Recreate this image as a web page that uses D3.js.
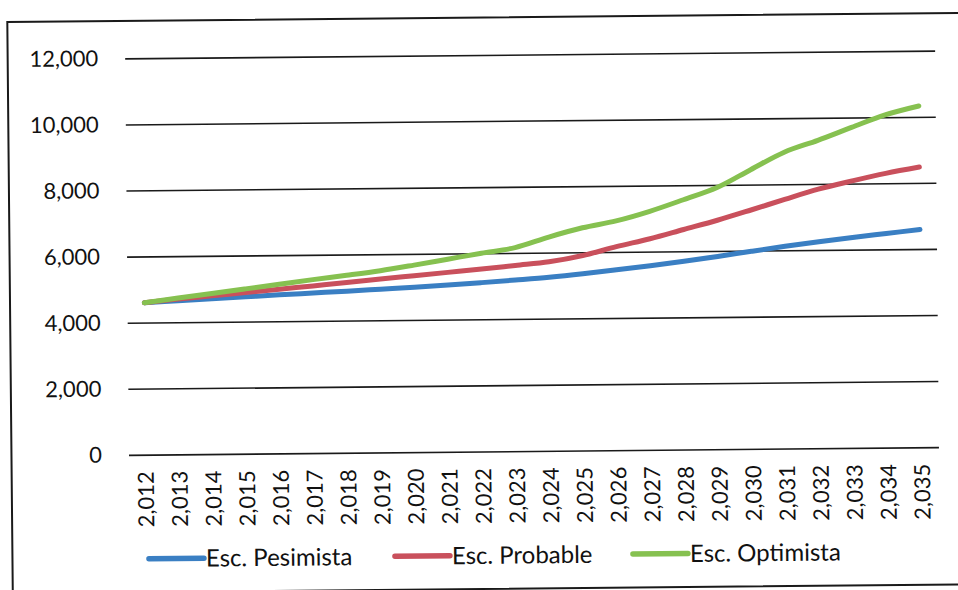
<!DOCTYPE html>
<html><head><meta charset="utf-8">
<script src="https://cdn.jsdelivr.net/npm/d3@7/dist/d3.min.js"></script>
<style>html,body{margin:0;padding:0;background:#fff;} svg{display:block;font-family:Lato,"Open Sans",sans-serif;}</style>
</head><body><svg id="c" width="958" height="590"></svg>
<script>
const years = [2012,2013,2014,2015,2016,2017,2018,2019,2020,2021,2022,2023,2024,2025,2026,2027,2028,2029,2030,2031,2032,2033,2034,2035];
const yearLabels = ["2,012","2,013","2,014","2,015","2,016","2,017","2,018","2,019","2,020","2,021","2,022","2,023","2,024","2,025","2,026","2,027","2,028","2,029","2,030","2,031","2,032","2,033","2,034","2,035"];
const pesimista = [4600,4650,4700,4750,4800,4845,4890,4940,4990,5045,5110,5180,5255,5350,5460,5575,5700,5835,5980,6120,6250,6370,6480,6590];
const probable  = [4600,4700,4790,4880,4970,5060,5150,5250,5340,5430,5520,5620,5720,5900,6160,6390,6660,6930,7230,7540,7840,8080,8300,8480];
const optimista = [4600,4730,4860,4990,5120,5250,5370,5500,5660,5830,6000,6160,6470,6740,6940,7220,7560,7920,8450,8970,9320,9700,10070,10330];
const yTicks = [0,2000,4000,6000,8000,10000,12000];
const seriesNames = ["Esc. Pesimista","Esc. Probable","Esc. Optimista"];
const seriesColors = ["#3a7fc3","#c9505c","#86c150"];
const seriesValues = [pesimista, probable, optimista];

const svg = d3.select("#c");
const g = svg.append("g").attr("transform","rotate(-0.55 479 300)");

// outer frame
g.append("rect").attr("x",10).attr("y",17.5).attr("width",1000).attr("height",571.5)
  .attr("fill","none").attr("stroke","#1a1a1a").attr("stroke-width",2);

const x = d3.scaleBand().domain(years).range([127.5,937.5]);
const y = d3.scaleLinear().domain([0,12000]).range([451.5,55]);
const cx = d => x(d) + x.bandwidth()/2;

// y axis + gridlines
const ya = g.append("g").attr("transform","translate(127.5,0)")
  .call(d3.axisLeft(y).tickValues(yTicks).tickFormat(d3.format(",")).tickSizeInner(-810).tickSizeOuter(0).tickPadding(27));
ya.select(".domain").remove();
ya.selectAll(".tick line").attr("stroke","#1a1a1a").attr("stroke-width",1.6);
ya.selectAll(".tick text").attr("fill","#111").style("font-size","22px").style("font-family","Lato, 'Open Sans', sans-serif");

// x axis
const xa = g.append("g").attr("transform","translate(0,451.5)")
  .call(d3.axisBottom(x).tickSize(0).tickFormat((d,i)=>yearLabels[i]));
xa.select(".domain").remove();
xa.selectAll(".tick text")
  .attr("y",0).attr("x",-16.5).attr("dy","0.35em")
  .attr("transform","rotate(-90)")
  .style("text-anchor","end").attr("fill","#111")
  .style("font-size","22px").style("font-family","Lato, 'Open Sans', sans-serif");

// lines
const line = d3.line().x((d,i)=>cx(years[i])).y(d=>y(d)).curve(d3.curveCatmullRom.alpha(0.5));
seriesValues.forEach((vals,k)=>{
  g.append("path").datum(vals).attr("d",line)
    .attr("fill","none").attr("stroke",seriesColors[k]).attr("stroke-width",5)
    .attr("stroke-linecap","round").attr("stroke-linejoin","round");
});

// legend
const legendX = [146.5, 392.5, 630.5];
const legendY = 555.5;
const lg = g.append("g");
seriesNames.forEach((name,k)=>{
  lg.append("line").attr("x1",legendX[k]).attr("x2",legendX[k]+55)
    .attr("y1",legendY).attr("y2",legendY)
    .attr("stroke",seriesColors[k]).attr("stroke-width",5.5).attr("stroke-linecap","round");
  lg.append("text").attr("x",legendX[k]+57).attr("y",legendY).attr("dy","0.35em")
    .attr("fill","#111").style("font-size","24px").text(name);
});
</script></body></html>
